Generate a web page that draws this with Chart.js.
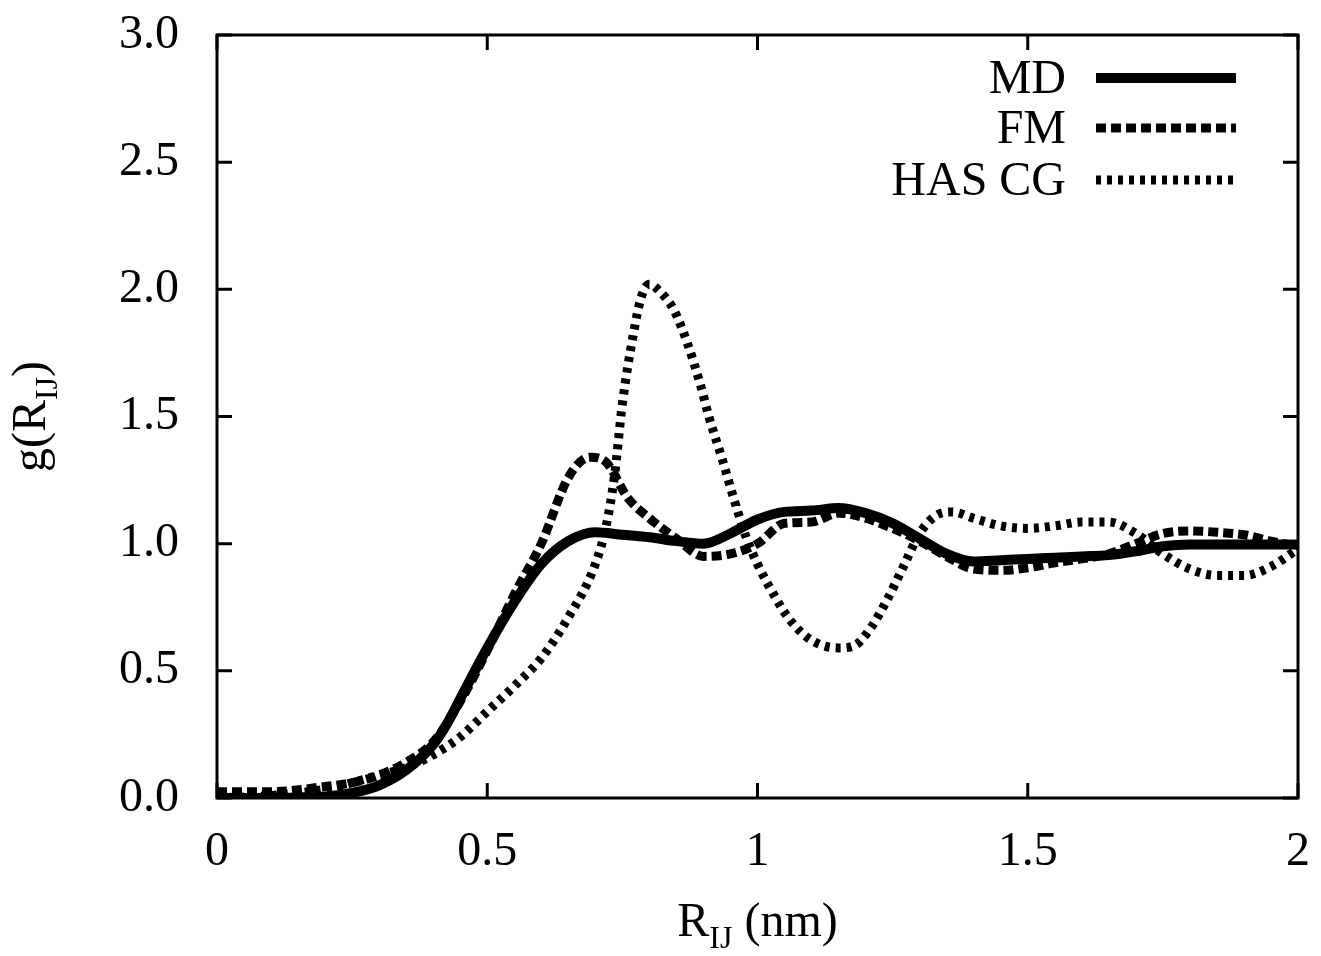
<!DOCTYPE html>
<html>
<head>
<meta charset="utf-8">
<script src="https://cdn.jsdelivr.net/npm/chart.js@4/dist/chart.umd.min.js"></script>
<style>
  html, body { margin: 0; padding: 0; background: #fff; }
  #rdf { display: block; }
</style>
</head>
<body>
<canvas id="rdf" width="1321" height="956"></canvas>
<script>
(function () {
    "use strict";

    // g(R_IJ) curves, R in nm
    const mdR = [0, 0.05, 0.1, 0.15, 0.2, 0.25, 0.3, 0.35, 0.4, 0.425, 0.45, 0.5, 0.55, 0.6, 0.65, 0.7, 0.75, 0.8, 0.85, 0.9, 0.95, 1.0, 1.05, 1.1, 1.15, 1.2, 1.25, 1.3, 1.35, 1.4, 1.45, 1.5, 1.55, 1.6, 1.65, 1.7, 1.75, 1.8, 1.9, 2.0];
    const mdG = [0, 0, 0, 0.002, 0.006, 0.02, 0.05, 0.11, 0.21, 0.29, 0.39, 0.59, 0.77, 0.92, 1.01, 1.045, 1.035, 1.025, 1.01, 1.0, 1.04, 1.095, 1.125, 1.13, 1.14, 1.12, 1.08, 1.02, 0.96, 0.93, 0.935, 0.94, 0.945, 0.95, 0.955, 0.97, 0.99, 0.997, 0.997, 0.997];

    const fmR = [0, 0.1, 0.2, 0.25, 0.3, 0.35, 0.4, 0.45, 0.5, 0.55, 0.6, 0.65, 0.69, 0.72, 0.76, 0.8, 0.85, 0.9, 0.95, 1.0, 1.05, 1.1, 1.15, 1.2, 1.25, 1.3, 1.35, 1.4, 1.45, 1.5, 1.55, 1.6, 1.65, 1.7, 1.75, 1.8, 1.85, 1.9, 1.95, 2.0];
    const fmG = [0.025, 0.025, 0.045, 0.06, 0.09, 0.14, 0.22, 0.38, 0.58, 0.8, 1.0, 1.26, 1.34, 1.32, 1.18, 1.1, 1.02, 0.95, 0.96, 1.0, 1.08, 1.085, 1.12, 1.1, 1.06, 1.01, 0.95, 0.9, 0.895, 0.905, 0.925, 0.94, 0.96, 1.0, 1.04, 1.05, 1.045, 1.035, 1.01, 0.99];

    const cgR = [0, 0.1, 0.2, 0.3, 0.35, 0.4, 0.45, 0.5, 0.55, 0.6, 0.65, 0.7, 0.72, 0.735, 0.75, 0.77, 0.785, 0.8, 0.82, 0.845, 0.87, 0.895, 0.91, 0.935, 0.96, 0.98, 1.0, 1.03, 1.06, 1.1, 1.15, 1.18, 1.21, 1.24, 1.27, 1.3, 1.33, 1.36, 1.4, 1.45, 1.5, 1.55, 1.6, 1.65, 1.7, 1.75, 1.8, 1.85, 1.9, 1.95, 2.0];
    const cgG = [0, 0.01, 0.035, 0.09, 0.12, 0.17, 0.24, 0.34, 0.44, 0.55, 0.71, 0.92, 1.07, 1.26, 1.55, 1.82, 1.97, 2.02, 1.99, 1.92, 1.79, 1.62, 1.5, 1.33, 1.15, 1.02, 0.92, 0.8, 0.7, 0.62, 0.59, 0.6, 0.67, 0.78, 0.91, 1.04, 1.11, 1.125, 1.1, 1.07, 1.06, 1.07, 1.085, 1.085, 1.04, 0.96, 0.9, 0.875, 0.875, 0.91, 0.98];

    const seriesNames = ['MD', 'FM', 'HAS CG'];
    const xTicks = [0, 0.5, 1, 1.5, 2];
    const yTicks = [0, 0.5, 1.0, 1.5, 2.0, 2.5, 3.0];

    const FONT = '"Liberation Serif", "DejaVu Serif", serif';
    const FSIZE = 48;

    const toPoints = (rs, gs) => rs.map((r, i) => ({ x: r, y: gs[i] }));

    // Frame with inward ticks on all four sides, axis titles with subscripts, legend
    const decor = {
        id: 'decor',
        afterDraw(chart) {
            const ctx = chart.ctx;
            const a = chart.chartArea;
            const xs = chart.scales.x, ys = chart.scales.y;
            const tick = 15;

            ctx.save();
            ctx.strokeStyle = '#000';
            ctx.lineWidth = 3;
            ctx.strokeRect(a.left, a.top, a.right - a.left, a.bottom - a.top);
            ctx.beginPath();
            xTicks.forEach(v => {
                const px = xs.getPixelForValue(v);
                ctx.moveTo(px, a.bottom); ctx.lineTo(px, a.bottom - tick);
                ctx.moveTo(px, a.top); ctx.lineTo(px, a.top + tick);
            });
            yTicks.forEach(v => {
                const py = ys.getPixelForValue(v);
                ctx.moveTo(a.left, py); ctx.lineTo(a.left + tick, py);
                ctx.moveTo(a.right, py); ctx.lineTo(a.right - tick, py);
            });
            ctx.stroke();

            // text with a subscript part
            function subText(parts, cx, cy) {
                let w = 0;
                parts.forEach(p => {
                    ctx.font = (p[1] ? 32 : FSIZE) + 'px ' + FONT;
                    w += ctx.measureText(p[0]).width;
                });
                let x = cx - w / 2;
                ctx.textAlign = 'left';
                ctx.textBaseline = 'alphabetic';
                parts.forEach(p => {
                    ctx.font = (p[1] ? 32 : FSIZE) + 'px ' + FONT;
                    ctx.fillText(p[0], x, cy + (p[1] ? 12 : 0));
                    x += ctx.measureText(p[0]).width;
                });
            }

            ctx.fillStyle = '#000';
            subText([['R', false], ['IJ', true], [' (nm)', false]], (a.left + a.right) / 2, 936);

            ctx.save();
            ctx.translate(45, (a.top + a.bottom) / 2);
            ctx.rotate(-Math.PI / 2);
            subText([['g(R', false], ['IJ', true], [')', false]], 0, 0);
            ctx.restore();

            // legend: right-aligned names followed by line samples
            const rows = [78, 128, 180];
            chart.data.datasets.forEach((ds, i) => {
                const y = rows[i];
                ctx.font = FSIZE + 'px ' + FONT;
                ctx.textAlign = 'right';
                ctx.textBaseline = 'middle';
                ctx.fillText(ds.label, 1066, y + 2);
                ctx.beginPath();
                ctx.lineWidth = ds.borderWidth;
                ctx.setLineDash(ds.borderDash || []);
                ctx.moveTo(1096, y);
                ctx.lineTo(1236, y);
                ctx.stroke();
            });
            ctx.restore();
        }
    };

    new Chart(document.getElementById('rdf'), {
        type: 'line',
        data: {
            datasets: [
                { label: seriesNames[0], data: toPoints(mdR, mdG), borderWidth: 10, borderDash: [] },
                { label: seriesNames[1], data: toPoints(fmR, fmG), borderWidth: 9, borderDash: [10, 5] },
                { label: seriesNames[2], data: toPoints(cgR, cgG), borderWidth: 9, borderDash: [5, 6] }
            ]
        },
        options: {
            responsive: false,
            animation: false,
            devicePixelRatio: 1,
            layout: { padding: { top: 35, right: 23, left: 0, bottom: 0 } },
            elements: {
                point: { radius: 0 },
                line: { borderColor: '#000', cubicInterpolationMode: 'monotone', borderCapStyle: 'butt', fill: false }
            },
            plugins: { legend: { display: false }, tooltip: { enabled: false } },
            scales: {
                x: {
                    type: 'linear', min: 0, max: 2,
                    grid: { display: false },
                    border: { display: false },
                    afterFit: s => { s.height = 158; s.paddingLeft = 0; s.paddingRight = 0; },
                    afterBuildTicks: s => { s.ticks = xTicks.map(v => ({ value: v })); },
                    ticks: {
                        color: '#000', padding: 18, maxRotation: 0,
                        font: { family: FONT, size: FSIZE },
                        callback: v => String(v)
                    }
                },
                y: {
                    type: 'linear', min: 0, max: 3,
                    grid: { display: false },
                    border: { display: false },
                    afterFit: s => { s.width = 217; s.paddingTop = 0; s.paddingBottom = 0; },
                    afterBuildTicks: s => { s.ticks = yTicks.map(v => ({ value: v })); },
                    ticks: {
                        color: '#000', padding: 30,
                        font: { family: FONT, size: FSIZE },
                        callback: v => v.toFixed(1)
                    }
                }
            }
        },
        plugins: [decor]
    });
})();
</script>
</body>
</html>
